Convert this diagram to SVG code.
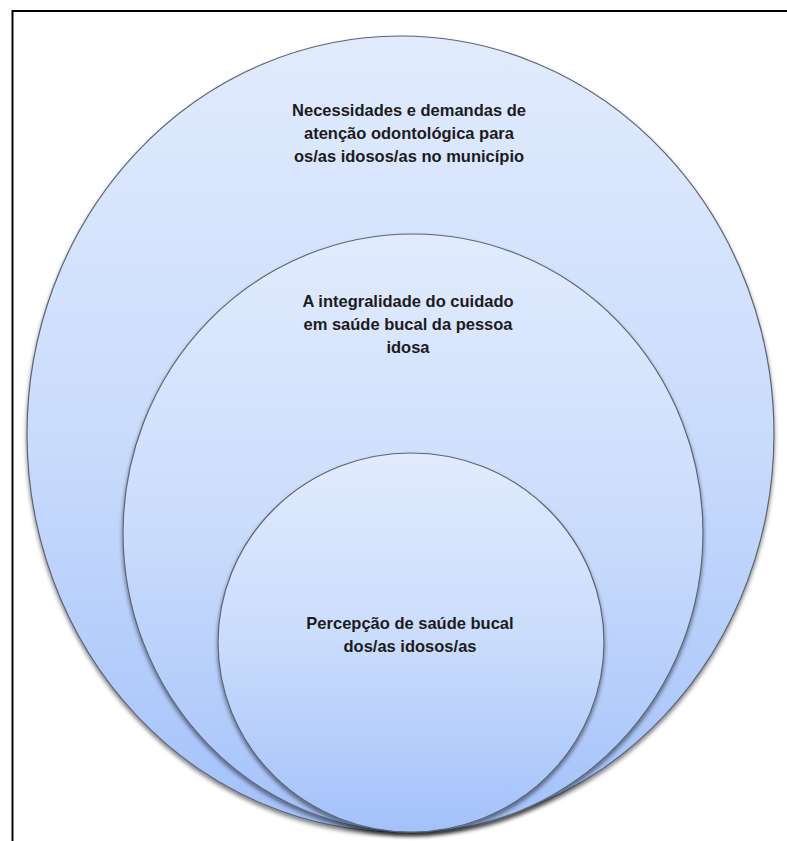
<svg xmlns="http://www.w3.org/2000/svg" width="787" height="841" viewBox="0 0 787 841">
<defs>
<linearGradient id="g" x1="0" y1="0" x2="0" y2="1">
<stop offset="0" stop-color="#e1ebfd"/>
<stop offset="0.5" stop-color="#cadcfc"/>
<stop offset="1" stop-color="#a3c1fa"/>
</linearGradient>
<filter id="sh" x="-5%" y="-5%" width="110%" height="112%">
<feGaussianBlur in="SourceAlpha" stdDeviation="2"/>
<feOffset dx="0" dy="3" result="b"/>
<feComponentTransfer><feFuncA type="linear" slope="0.5"/></feComponentTransfer>
<feMerge><feMergeNode/><feMergeNode in="SourceGraphic"/></feMerge>
</filter>
</defs>
<style>
.c{fill:url(#g);stroke:#5b6577;stroke-width:1.2;filter:url(#sh)}
.t{font-family:"Liberation Sans",Arial,sans-serif;font-weight:bold;font-size:16.5px;fill:#1c1c1c;text-anchor:middle}
</style>
<rect x="0" y="0" width="787" height="841" fill="#ffffff"/>
<path d="M12.5 841 V11 H787" fill="none" stroke="#000" stroke-width="2"/>
<g id="outer">
<ellipse class="c" cx="400.5" cy="434" rx="373.5" ry="398"/>
<text class="t" x="409" y="116">Necessidades e demandas de</text>
<text class="t" x="409" y="139">atenção odontológica para</text>
<text class="t" x="409" y="162">os/as idosos/as no município</text>
</g>
<g id="middle">
<ellipse class="c" cx="413" cy="533" rx="290" ry="299"/>
<text class="t" x="408" y="307">A integralidade do cuidado</text>
<text class="t" x="408" y="330">em saúde bucal da pessoa</text>
<text class="t" x="408" y="353">idosa</text>
</g>
<g id="inner">
<ellipse class="c" cx="411" cy="642.5" rx="193" ry="189.5"/>
<text class="t" x="410" y="629">Percepção de saúde bucal</text>
<text class="t" x="410" y="652">dos/as idosos/as</text>
</g>
<g id="connectors"/>
</svg>
